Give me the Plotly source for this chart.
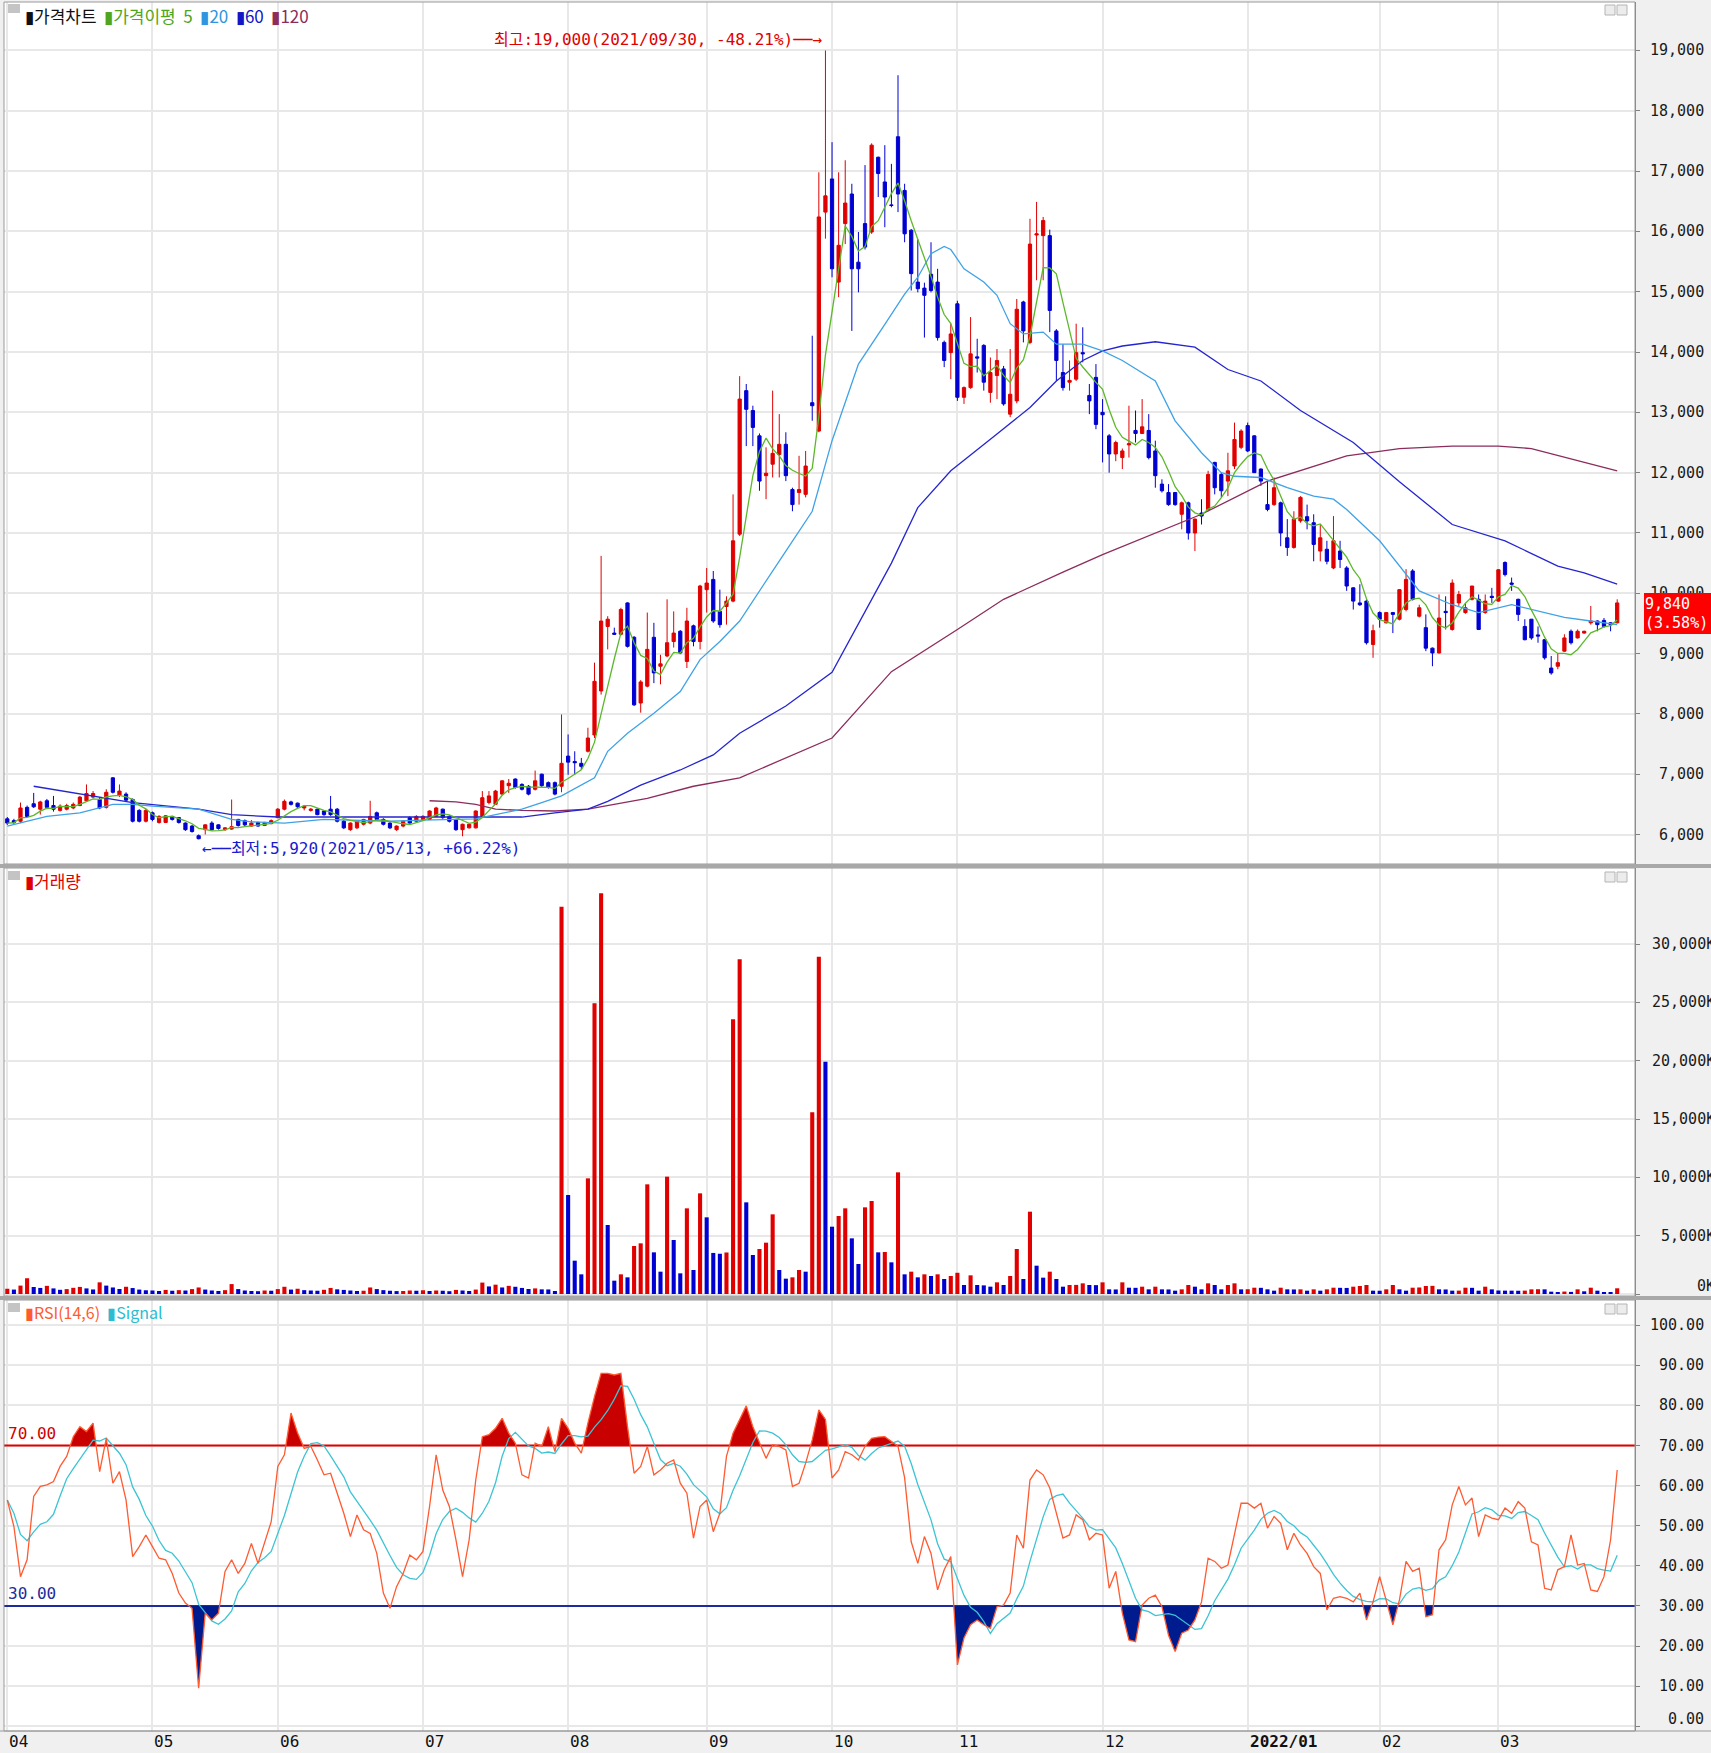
import numpy as np
import pandas as pd
import plotly.graph_objects as go

# ---- data (daily, trading-day index 0..244, 2021/04 .. 2022/03) ----
month_labels = ["04", "05", "06", "07", "08", "09", "10", "11", "12", "2022/01", "02", "03"]
month_start = [0, 22, 41, 63, 85, 106, 125, 144, 166, 188, 208, 226]

open_ = [
    # 0-21
    6260, 6230, 6220, 6450, 6510, 6420, 6560, 6480, 6400, 6420, 6440, 6480, 6560, 6620, 6580, 6450, 6940, 6650, 6670, 6580, 6400, 6220,
    # 22-40
    6360, 6200, 6200, 6300, 6280, 6190, 6140, 5980, 6080, 6190, 6160, 6080, 6090, 6250, 6230, 6140, 6200, 6150, 6180,
    # 41-62
    6280, 6420, 6540, 6520, 6440, 6400, 6420, 6390, 6420, 6420, 6220, 6080, 6110, 6170, 6190, 6360, 6250, 6190, 6080, 6140, 6280, 6220,
    # 63-83
    6250, 6250, 6300, 6420, 6300, 6250, 6080, 6110, 6110, 6300, 6530, 6500, 6670, 6810, 6920, 6830, 6800, 6750, 7000, 6860, 6860,
    # 84-105
    6800, 7300, 7210, 7180, 7380, 7650, 8380, 9450, 9340, 9320, 9840, 9270, 8180, 8460, 9270, 8790, 8960, 9200, 9370, 8870, 9460, 9200,
    # 106-124
    10060, 10230, 9700, 9780, 9870, 10980, 13360, 13030, 12610, 11950, 12140, 12300, 12470, 11720, 11670, 11640, 13160, 12690, 16320,
    # 125-143
    16870, 15160, 16130, 16620, 15490, 16130, 15990, 17230, 16820, 16440, 17570, 16680, 16020, 15160, 15060, 15290, 15160, 14160, 13990,
    # 144-165
    14800, 13250, 13410, 13920, 14110, 13330, 13610, 13720, 12970, 13190, 14830, 14160, 15940, 15930, 15930, 14350, 13660, 13500, 13550, 13990, 13280, 13580,
    # 166-187
    13000, 12610, 12310, 12250, 12460, 12700, 12650, 12700, 12360, 11810, 11670, 11670, 11310, 11500, 11000, 11330, 11390, 12170, 11970, 11860, 12110, 12420,
    # 188-207
    12780, 12610, 12060, 11470, 11470, 11500, 10920, 10760, 11200, 11270, 11170, 10700, 10730, 10420, 10700, 10420, 10090, 9840, 9870, 9150,
    # 208-225
    9680, 9510, 9680, 9570, 9730, 10370, 9620, 9430, 9090, 9010, 9700, 9400, 9840, 9680, 9900, 9900, 9680, 9950,
    # 226-244
    9870, 10510, 10170, 9900, 9450, 9570, 9310, 9230, 8760, 8790, 9040, 9370, 9260, 9340, 9510, 9540, 9550, 9510, 9510,
]
high = [
    6290, 6260, 6530, 6480, 6690, 6560, 6590, 6640, 6500, 6510, 6530, 6640, 6830, 6720, 6620, 6750, 6950, 6830, 6700, 6600, 6420, 6420,
    6380, 6320, 6320, 6310, 6290, 6200, 6160, 6000, 6170, 6220, 6170, 6120, 6580, 6260, 6250, 6240, 6210, 6210, 6250,
    6440, 6580, 6560, 6530, 6490, 6440, 6430, 6400, 6640, 6440, 6240, 6200, 6230, 6260, 6560, 6380, 6270, 6200, 6150, 6240, 6300, 6320,
    6320, 6400, 6460, 6430, 6320, 6260, 6180, 6180, 6400, 6720, 6720, 6740, 6900, 6920, 6930, 6850, 6820, 7060, 7010, 6880, 6880,
    7990, 7660, 7380, 7270, 7770, 8850, 10620, 9620, 9430, 9760, 9850, 9290, 8560, 9680, 9510, 8980, 9900, 9700, 9390, 9760, 9480, 10140,
    10420, 10370, 10060, 9950, 11640, 13600, 13470, 13110, 12650, 12420, 13360, 12970, 12670, 11750, 12280, 12360, 14270, 16980, 19000,
    17480, 16980, 17180, 16790, 15990, 17100, 17460, 17240, 17430, 17120, 18590, 16790, 16040, 15870, 15150, 15820, 15380, 14190, 14470,
    14850, 13430, 14580, 14220, 14130, 13910, 14050, 13770, 14050, 14880, 14850, 16210, 16490, 16240, 16030, 14380, 14130, 13860, 14470, 14410, 13470, 13800,
    13220, 12640, 12530, 12400, 13110, 13030, 13220, 12970, 12530, 11890, 11810, 11680, 11520, 11520, 11240, 11560, 12030, 12180, 12000, 12330, 12830, 12720,
    12830, 12620, 12070, 11860, 11920, 11520, 11230, 11360, 11610, 11470, 11310, 11140, 10870, 11280, 10870, 10450, 10100, 10150, 9900, 9480,
    9700, 9690, 9690, 10070, 10400, 10400, 9810, 9650, 9100, 9980, 9950, 10230, 10040, 9840, 10120, 9980, 9980, 10090,
    10400, 10530, 10260, 9910, 9570, 9570, 9450, 9240, 8960, 9010, 9320, 9400, 9400, 9380, 9790, 9550, 9590, 9520, 9900,
]
low = [
    6160, 6170, 6190, 6280, 6440, 6330, 6420, 6380, 6380, 6400, 6420, 6470, 6540, 6600, 6420, 6430, 6680, 6620, 6540, 6200, 6200, 6200,
    6220, 6180, 6190, 6230, 6180, 6060, 6030, 5920, 6000, 6070, 6080, 6060, 6080, 6130, 6140, 6130, 6130, 6140, 6170,
    6270, 6400, 6480, 6440, 6400, 6380, 6320, 6310, 6310, 6200, 6090, 6060, 6090, 6150, 6170, 6230, 6150, 6090, 6060, 6120, 6180, 6200,
    6230, 6240, 6290, 6260, 6200, 6060, 5970, 6100, 6100, 6290, 6500, 6490, 6650, 6690, 6760, 6730, 6650, 6730, 6790, 6760, 6650,
    6700, 6990, 6990, 7070, 7360, 7600, 8320, 9070, 9310, 9300, 9100, 8130, 8020, 8440, 8510, 8490, 8940, 9100, 8990, 8760, 9120, 9070,
    9680, 9510, 9430, 9480, 9850, 10950, 12440, 12440, 11700, 11560, 11920, 11920, 11860, 11360, 11470, 11590, 12860, 12670, 15880,
    15240, 14910, 15790, 14350, 14990, 15700, 15960, 16570, 16070, 16400, 16320, 15820, 15020, 14990, 14240, 14990, 14190, 13750, 13550,
    13190, 13140, 13390, 13660, 13360, 13160, 13220, 13110, 12920, 13150, 14160, 14130, 15190, 15190, 14330, 13520, 13360, 13360, 13520, 13830, 12970, 12720,
    12170, 12000, 12190, 12060, 12250, 12500, 12640, 12220, 11750, 11670, 11450, 11450, 11060, 10890, 10700, 11140, 11360, 11640, 11590, 11610, 12060, 12390,
    12340, 12000, 11780, 11360, 11450, 10780, 10620, 10740, 11170, 11060, 10530, 10530, 10480, 10400, 10420, 10040, 9730, 9790, 9150, 8930,
    9430, 9500, 9340, 9550, 9700, 9880, 9600, 9040, 8790, 9000, 9400, 9380, 9790, 9660, 9880, 9390, 9660, 9840,
    9860, 10280, 10040, 9540, 9220, 9230, 9180, 8900, 8650, 8740, 9030, 9150, 9250, 9330, 9480, 9370, 9430, 9370, 9500,
]
close = [
    6190, 6200, 6440, 6300, 6460, 6540, 6450, 6420, 6470, 6480, 6500, 6620, 6680, 6680, 6440, 6700, 6700, 6720, 6570, 6220, 6220, 6400,
    6250, 6300, 6310, 6250, 6200, 6080, 6050, 5930, 6160, 6080, 6100, 6110, 6130, 6150, 6160, 6190, 6140, 6200, 6230,
    6420, 6550, 6500, 6460, 6470, 6420, 6330, 6330, 6330, 6220, 6110, 6190, 6220, 6250, 6300, 6250, 6170, 6110, 6140, 6220, 6190, 6300,
    6300, 6390, 6440, 6280, 6220, 6080, 6170, 6170, 6390, 6610, 6640, 6720, 6890, 6850, 6780, 6750, 6670, 6890, 6810, 6780, 6670,
    7180, 7200, 7190, 7130, 7600, 8540, 9540, 9570, 9320, 9730, 9120, 8150, 8530, 9070, 8680, 8830, 9180, 9340, 9010, 9540, 9200, 10120,
    10170, 9540, 9480, 9870, 10870, 13220, 13050, 12750, 11860, 11990, 12320, 12470, 11950, 11470, 11720, 12110, 13110, 16240, 16590,
    15380, 15770, 16470, 15380, 15380, 15740, 17430, 16960, 16570, 16430, 16620, 15960, 15300, 15050, 14940, 15020, 14240, 13860, 14300,
    13250, 13410, 13970, 13900, 13500, 13660, 13860, 13140, 13300, 14710, 14350, 15790, 15960, 16180, 14690, 13860, 13410, 13530, 13990, 13970, 13190, 12800,
    12960, 12310, 12500, 12360, 12480, 12650, 12760, 12250, 11950, 11700, 11470, 11470, 11500, 11000, 11230, 11280, 11970, 11750, 11700, 12030, 12550, 12690,
    12360, 12000, 11860, 11390, 11750, 11000, 10760, 11230, 11590, 11200, 10810, 10920, 10530, 10870, 10560, 10120, 9870, 9810, 9180, 9380,
    9570, 9680, 9650, 10060, 10230, 9900, 9760, 9090, 9010, 9590, 9680, 10170, 9980, 9760, 10120, 9400, 9870, 9930,
    10390, 10310, 10150, 9650, 9230, 9260, 9290, 8930, 8680, 8850, 9260, 9180, 9370, 9370, 9540, 9480, 9450, 9480, 9840,
]
volume_k = [
    450, 380, 720, 1350, 600, 520, 700, 480, 360, 420, 530, 610, 480, 390, 1000, 720, 560, 430, 620, 510, 380, 320,
    300, 260, 350, 280, 330, 300, 420, 560, 380, 300, 260, 330, 850, 420, 300, 260, 240, 300, 280,
    420, 620, 380, 450, 330, 300, 280, 360, 520, 400, 350, 300, 260, 280, 560, 420, 330, 280, 250, 260, 300, 280,
    320, 260, 300, 280, 240, 350, 300, 260, 380, 980, 650, 800, 560, 700, 620, 520, 430, 480, 400, 390, 257,
    33200, 8485, 2857, 1686, 9914, 24914, 34340, 5914, 1143, 1686, 1428, 4114, 4343, 9400, 3571, 1914, 10057, 4628, 1771, 7343, 2057, 8628,
    6571, 3520, 3450, 3560, 23540, 28685, 7857, 3343, 3857, 4400, 6828, 2057, 1314, 1428, 2057, 1914, 15570, 28914, 19914,
    5771, 6686, 7343, 4771, 2571, 7428, 7971, 3571, 3600, 2714, 10428, 1686, 1914, 1428, 1686, 1543, 1686, 1286, 1543,
    1820, 771, 1600, 771, 740, 630, 1000, 771, 1543, 3857, 1286, 7057, 2428, 1400, 1914, 1286, 628, 771, 780, 914, 771, 760,
    1000, 400, 390, 1000, 540, 530, 628, 400, 628, 400, 390, 286, 400, 771, 628, 400, 914, 771, 400, 771, 914, 400,
    410, 540, 530, 400, 286, 540, 400, 390, 400, 286, 400, 286, 400, 540, 530, 520, 628, 686, 771, 286,
    280, 400, 771, 400, 286, 540, 560, 686, 700, 400, 390, 286, 290, 540, 530, 286, 628, 400,
    300, 290, 286, 280, 290, 400, 410, 400, 200, 150, 210, 180, 400, 230, 540, 286, 150, 140, 490,
]
rsi = [
    56.4, 49.8, 37.3, 41.5, 57.3, 59.8, 60.2, 61.0, 64.8, 67.3, 72.2, 74.7, 73.5, 75.6, 63.5, 71.8, 60.6, 63.5, 56.4, 42.3, 44.8, 47.7,
    44.8, 41.9, 41.5, 38.1, 33.2, 30.7, 29.4, 9.5, 28.2, 26.5, 28.2, 38.6, 41.5, 38.1, 40.6, 45.6, 40.6, 45.6, 51.0,
    64.8, 67.7, 78.1, 73.1, 69.3, 69.8, 66.4, 62.7, 63.1, 58.1, 53.1, 47.3, 52.7, 49.0, 48.1, 43.1, 33.2, 29.4, 34.8, 38.1, 42.7, 41.5,
    43.6, 54.8, 67.7, 58.9, 54.8, 46.5, 37.3, 46.5, 61.4, 72.2, 72.7, 74.3, 76.8, 73.1, 70.6, 62.7, 61.9, 70.6, 69.8, 74.7, 68.5,
    76.8, 74.3, 70.6, 68.1, 75.6, 82.2, 88.0, 88.0, 87.6, 88.0, 74.7, 63.1, 64.8, 69.8, 62.7, 63.9, 65.6, 66.4, 60.6, 58.1, 46.9, 54.8,
    56.4, 48.5, 53.1, 67.3, 73.1, 76.4, 79.9, 74.7, 70.6, 66.8, 70.2, 69.8, 68.9, 59.8, 60.6, 65.6, 71.4, 78.9, 76.5,
    61.9, 63.9, 68.5, 67.7, 66.4, 69.8, 71.8, 72.1, 72.2, 71.0, 69.8, 62.0, 46.0, 40.6, 47.3, 43.1, 34.0, 39.0, 42.3,
    15.3, 22.0, 25.3, 26.5, 25.3, 24.4, 29.8, 30.2, 33.2, 47.7, 44.4, 61.4, 63.9, 62.7, 59.4, 53.1, 46.9, 47.7, 52.7, 51.5, 46.5, 48.1,
    47.7, 34.4, 38.6, 28.2, 21.5, 21.1, 30.2, 31.9, 32.7, 29.8, 22.7, 18.6, 23.2, 24.0, 26.5, 31.0, 41.9, 41.1, 39.4, 40.2, 48.1, 55.6,
    55.6, 54.4, 55.6, 49.4, 52.3, 50.6, 44.0, 48.1, 45.2, 43.1, 39.8, 38.1, 29.0, 31.9, 32.3, 31.9, 31.0, 33.2, 26.5, 31.0,
    37.3, 31.5, 25.3, 31.5, 41.1, 38.6, 39.4, 27.3, 27.8, 44.0, 46.5, 55.2, 59.8, 55.2, 56.9, 47.3, 52.7, 51.9,
    51.5, 54.4, 53.1, 56.0, 54.4, 46.0, 45.2, 34.4, 34.0, 39.0, 39.8, 47.7, 40.2, 40.6, 34.0, 33.6, 37.3, 46.5, 63.9,
]

# moving averages (day index -> value)
ma20_day = [0, 6, 11, 16, 19, 22, 29, 34, 37, 42, 48, 53, 58, 63, 68, 71, 74, 78, 81, 84, 89, 91, 94, 98, 102, 105, 108, 111,
            118, 122, 125, 129, 133, 136, 138, 140, 142, 143, 145, 148, 150, 152, 154, 157, 159, 163, 166, 169, 174, 177,
            181, 184, 186, 190, 194, 198, 201, 203, 208, 211, 214, 219, 223, 228, 232, 236, 240, 244]
ma20_val = [6140, 6300, 6360, 6500, 6500, 6470, 6420, 6250, 6210, 6190, 6250, 6240, 6220, 6240, 6250, 6260, 6330, 6420, 6530,
            6640, 6940, 7380, 7680, 8010, 8370, 8900, 9200, 9540, 10700, 11360, 12530, 13800, 14460, 14960, 15240, 15630,
            15750, 15700, 15380, 15160, 14940, 14470, 14300, 14330, 14130, 14130, 14020, 13860, 13520, 12860, 12330, 12000,
            11940, 11920, 11750, 11610, 11560, 11390, 10870, 10450, 10040, 9810, 9680, 9810, 9700, 9600, 9540, 9480]
ma60_day = [4, 11, 19, 29, 34, 41, 53, 66, 73, 78, 83, 88, 91, 96, 102, 107, 111, 118, 125, 134, 138, 143, 150, 155, 159,
            163, 166, 169, 174, 180, 185, 190, 196, 201, 204, 211, 219, 227, 235, 239, 244]
ma60_val = [6800, 6670, 6530, 6420, 6330, 6290, 6290, 6290, 6280, 6290, 6360, 6420, 6550, 6820, 7070, 7320, 7680, 8130, 8690,
            10500, 11420, 12030, 12640, 13080, 13520, 13860, 14020, 14100, 14170, 14080, 13710, 13520, 13030, 12690, 12500,
            11850, 11140, 10870, 10450, 10340, 10150]
ma120_day = [64, 68, 71, 74, 78, 83, 88, 97, 104, 111, 125, 134, 144, 151, 160, 166, 181, 191, 203, 211, 219, 226, 231, 236, 244]
ma120_val = [6560, 6540, 6500, 6420, 6400, 6390, 6420, 6600, 6800, 6940, 7600, 8700, 9400, 9900, 10350, 10640, 11310, 11860,
             12280, 12400, 12440, 12440, 12400, 12260, 12030]

for arr in (open_, high, low, close, volume_k, rsi):
    assert len(arr) == 245, len(arr)

# ---- styling ----
W, H = 1711, 1753
ML, MR, MT, MB = 4, 76, 2, 22
UP, DOWN = "#e10000", "#0000d2"
GRID = "#e8e8e8"
MONO = "DejaVu Sans Mono, Noto Sans CJK KR, monospace"
KR = "Noto Sans CJK KR, sans-serif"
XR = [-0.5, 246.7]
SP = "\u00a0"


def px(x):
    return (x - ML) / (W - ML - MR)


def py(y):
    return (H - MB - y) / (H - MT - MB)


days = np.arange(len(close))
ma5 = pd.Series(close).rolling(5, min_periods=1).mean()
signal = pd.Series(rsi).rolling(6, min_periods=1).mean()
vol_colors = [UP] + [UP if volume_k[i] >= volume_k[i - 1] else DOWN for i in range(1, len(volume_k))]


def clip_band(xs, ys, level, above):
    ox, oy = [], []
    for i in range(len(xs)):
        if i > 0:
            y0, y1 = ys[i - 1], ys[i]
            if (y0 - level) * (y1 - level) < 0:
                t = (level - y0) / (y1 - y0)
                ox.append(xs[i - 1] + t * (xs[i] - xs[i - 1]))
                oy.append(level)
        ox.append(xs[i])
        oy.append(max(ys[i], level) if above else min(ys[i], level))
    return ox, oy


fig = go.Figure()

# price panel
fig.add_trace(go.Candlestick(
    x=days, open=open_, high=high, low=low, close=close, whiskerwidth=0,
    increasing=dict(line=dict(color=UP, width=1), fillcolor=UP),
    decreasing=dict(line=dict(color=DOWN, width=1), fillcolor=DOWN),
    xaxis="x", yaxis="y", hoverinfo="skip", showlegend=False))
for xs, ys, col in [(ma120_day, ma120_val, "#8c2c5c"), (ma60_day, ma60_val, "#2525d0"),
                    (ma20_day, ma20_val, "#3fa2e6"), (days, ma5, "#5cb82a")]:
    fig.add_trace(go.Scatter(x=xs, y=ys, mode="lines", line=dict(color=col, width=1.3),
                             xaxis="x", yaxis="y", hoverinfo="skip", showlegend=False))

# volume panel
fig.add_trace(go.Bar(x=days, y=volume_k, width=0.62, marker=dict(color=vol_colors, line=dict(width=0)),
                     xaxis="x2", yaxis="y2", hoverinfo="skip", showlegend=False))

# rsi panel
for lvl, col in [(70, "#e00000"), (30, "#1c2c9c")]:
    fig.add_trace(go.Scatter(x=XR, y=[lvl, lvl], mode="lines", line=dict(color=col, width=2),
                             xaxis="x3", yaxis="y3", hoverinfo="skip", showlegend=False))
for lvl, above, fcol in [(70, True, "#c80000"), (30, False, "#001b8e")]:
    cx, cy = clip_band(list(days), rsi, lvl, above)
    fig.add_trace(go.Scatter(x=cx, y=[lvl] * len(cx), mode="lines", line=dict(width=0),
                             xaxis="x3", yaxis="y3", hoverinfo="skip", showlegend=False))
    fig.add_trace(go.Scatter(x=cx, y=cy, mode="lines", line=dict(width=0), fill="tonexty", fillcolor=fcol,
                             xaxis="x3", yaxis="y3", hoverinfo="skip", showlegend=False))
fig.add_trace(go.Scatter(x=days, y=signal, mode="lines", line=dict(color="#3cc4d4", width=1.3),
                         xaxis="x3", yaxis="y3", hoverinfo="skip", showlegend=False))
fig.add_trace(go.Scatter(x=days, y=rsi, mode="lines", line=dict(color="#ff5a30", width=1.3),
                         xaxis="x3", yaxis="y3", hoverinfo="skip", showlegend=False))

xcommon = dict(range=XR, domain=[0, 1], tickvals=month_start, showticklabels=False, ticks="",
               showgrid=True, gridcolor=GRID, gridwidth=2, zeroline=False, showline=False)
ycommon = dict(side="right", showticklabels=False, ticks="outside", ticklen=4, tickcolor="#808080",
               showgrid=True, gridcolor=GRID, gridwidth=2, zeroline=False, showline=True, linecolor="#808080")

fig.update_layout(
    width=W, height=H, margin=dict(l=ML, r=MR, t=MT, b=MB, pad=0),
    paper_bgcolor="#f0f0f0", plot_bgcolor="#ffffff", showlegend=False,
    xaxis=dict(anchor="y", rangeslider=dict(visible=False), **xcommon),
    xaxis2=dict(anchor="y2", matches="x", **xcommon),
    xaxis3=dict(anchor="y3", matches="x", **xcommon),
    yaxis=dict(domain=[py(864), py(2)], range=[5511, 19804], tickvals=list(range(6000, 20000, 1000)), **ycommon),
    yaxis2=dict(domain=[py(1296), py(868)], range=[-171, 36514], tickvals=list(range(0, 35000, 5000)), **ycommon),
    yaxis3=dict(domain=[py(1731), py(1300)], range=[-1.2, 106.3], tickvals=list(range(0, 101, 10)), **ycommon),
)

ann = []
# right-side tick labels
for v in range(6000, 20000, 1000):
    ann.append(dict(x=px(1706), xref="paper", y=v, yref="y", text=f"{v:,}", showarrow=False,
                    xanchor="right", yanchor="middle", font=dict(family=MONO, size=15, color="#1a1a1a")))
for v in range(0, 35000, 5000):
    ann.append(dict(x=px(1717), xref="paper", y=v, yref="y2", text=f"{v:,}K", showarrow=False,
                    xanchor="right", yanchor="middle", yshift=8 if v == 0 else 0,
                    font=dict(family=MONO, size=15, color="#1a1a1a")))
for v in range(0, 101, 10):
    ann.append(dict(x=px(1706), xref="paper", y=v, yref="y3", text=f"{v:.2f}", showarrow=False,
                    xanchor="right", yanchor="middle", yshift=7 if v == 0 else 0,
                    font=dict(family=MONO, size=15, color="#1a1a1a")))
# month labels
for m, lab in zip(month_start, month_labels):
    ann.append(dict(x=m, xref="x3", y=py(1741), yref="paper", text=f"<b>{lab}</b>" if "/" in lab else lab,
                    showarrow=False, xanchor="left", yanchor="middle", xshift=0,
                    font=dict(family=MONO, size=16, color="#111111")))
# panel legends
ann.append(dict(x=px(23), xref="paper", y=py(15), yref="paper", showarrow=False, xanchor="left", yanchor="middle",
                text=f'<span style="color:#111">▮가격차트</span>{SP} <span style="color:#4fa51e">▮가격이평{SP} 5</span>{SP} '
                     f'<span style="color:#2f95e0">▮20</span>{SP} <span style="color:#1515c8">▮60</span>{SP} '
                     '<span style="color:#8c2c5c">▮120</span>',
                font=dict(family=KR, size=17)))
ann.append(dict(x=px(23), xref="paper", y=py(880), yref="paper", showarrow=False, xanchor="left", yanchor="middle",
                text="▮거래량", font=dict(family=KR, size=17, color="#e00000")))
ann.append(dict(x=px(23), xref="paper", y=py(1312), yref="paper", showarrow=False, xanchor="left", yanchor="middle",
                text=f'<span style="color:#ff5a30">▮RSI(14,6)</span>{SP} <span style="color:#2bbcd0">▮Signal</span>',
                font=dict(family=KR, size=16)))
# high / low markers
ann.append(dict(x=123.8, xref="x", y=19175, yref="y", showarrow=False, xanchor="right", yanchor="middle",
                text="최고:19,000(2021/09/30, -48.21%)──→", font=dict(family=MONO, size=16, color="#e00000")))
ann.append(dict(x=29.2, xref="x", y=5776, yref="y", showarrow=False, xanchor="left", yanchor="middle",
                text="←──최저:5,920(2021/05/13, +66.22%)", font=dict(family=MONO, size=16, color="#1a1ad0")))
# rsi level labels
ann.append(dict(x=px(6), xref="paper", y=70, yref="y3", showarrow=False, xanchor="left", yanchor="bottom",
                yshift=1, text="70.00", font=dict(family=MONO, size=16, color="#d00000")))
ann.append(dict(x=px(6), xref="paper", y=30, yref="y3", showarrow=False, xanchor="left", yanchor="bottom",
                yshift=1, text="30.00", font=dict(family=MONO, size=16, color="#1c2c9c")))
# current price box
ann.append(dict(x=px(1644), xref="paper", y=10000, yref="y", showarrow=False, xanchor="left", yanchor="top",
                text="9,840<br>(3.58%)", align="left", bgcolor="#ff0000", borderpad=1, borderwidth=0,
                width=65, height=39, font=dict(family=MONO, size=15, color="#ffffff")))
fig.update_layout(annotations=ann)

shapes = []
# panel frames
for top, bot in [(2, 864), (868, 1296), (1300, 1731)]:
    shapes.append(dict(type="rect", xref="paper", yref="paper", x0=0, x1=1, y0=py(bot), y1=py(top),
                       line=dict(color="#9a9a9a", width=1), layer="above"))
# separators between panels
for top, bot in [(864, 868), (1296, 1300)]:
    shapes.append(dict(type="rect", xref="paper", yref="paper", x0=px(0), x1=px(W), y0=py(bot), y1=py(top),
                       fillcolor="#a8a8a8", line=dict(width=0), layer="above"))
shapes.append(dict(type="line", xref="paper", yref="paper", x0=px(0), x1=px(W), y0=py(1731), y1=py(1731),
                   line=dict(color="#9a9a9a", width=1)))
# small window-tab glyphs in the panel corners
for top in [4, 871, 1303]:
    shapes.append(dict(type="rect", xref="paper", yref="paper", x0=px(8), x1=px(20), y0=py(top + 9), y1=py(top),
                       fillcolor="#c4c4c4", line=dict(width=0), layer="above"))
    for x0 in (1605, 1617):
        shapes.append(dict(type="rect", xref="paper", yref="paper", x0=px(x0), x1=px(x0 + 10),
                           y0=py(top + 11), y1=py(top + 1), fillcolor="#ececec",
                           line=dict(color="#b4b4b4", width=1), layer="above"))
fig.update_layout(shapes=shapes)

fig.write_html("out.html", config={"displayModeBar": False},
               post_script="document.body.style.margin='0';")
